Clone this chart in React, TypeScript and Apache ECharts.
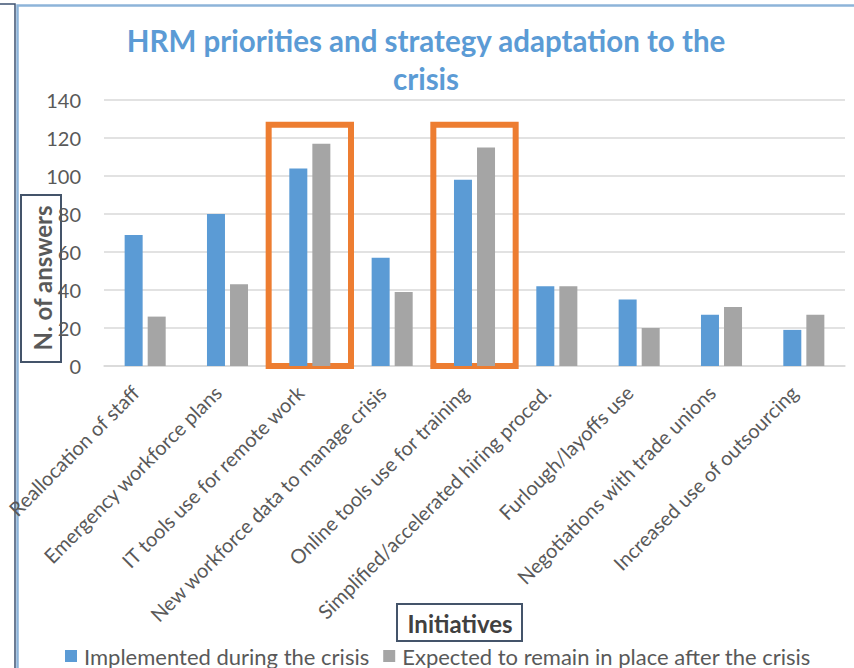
import React, { useEffect, useRef } from "react";
import * as echarts from "echarts";

const categories = [
  "Reallocation of staff",
  "Emergency workforce plans",
  "IT tools use for remote work",
  "New workforce data to manage crisis",
  "Online tools use for training",
  "Simplified/accelerated hiring proced.",
  "Furlough/layoffs use",
  "Negotiations with trade unions",
  "Increased use of outsourcing",
];
const implementedDuring = [69, 80, 104, 57, 98, 42, 35, 27, 19];
const expectedToRemain = [26, 43, 117, 39, 115, 42, 20, 31, 27];
const highlighted = ["IT tools use for remote work", "Online tools use for training"];
const highlightTop = 127;
const yTicks = { min: 0, max: 140, interval: 20 };

const FONT = "Lato, 'Noto Sans', sans-serif";

export default function App() {
  const ref = useRef<HTMLDivElement>(null);
  useEffect(() => {
    if (!ref.current) return;
    const chart = echarts.init(ref.current, null, { renderer: "svg" });
    chart.setOption({
      animation: false,
      backgroundColor: "#ffffff",
      textStyle: { fontFamily: FONT },
      title: {
        text: "HRM priorities and strategy adaptation to the\ncrisis",
        left: 421,
        top: 16,
        textAlign: "center",
        textStyle: {
          fontFamily: FONT,
          fontSize: 29.5,
          fontWeight: "bold",
          color: "#5b9bd5",
          lineHeight: 38,
        },
      },
      legend: {
        left: 60,
        top: 640,
        itemWidth: 12,
        itemHeight: 12,
        itemGap: 14,
        icon: "rect",
        textStyle: { fontFamily: FONT, fontSize: 22, color: "#595959", padding: [0, 0, 0, 2] },
        data: ["Implemented during the crisis", "Expected to remain in place after the crisis"],
      },
      grid: { left: 104, right: 9, top: 100, bottom: 302, containLabel: false },
      xAxis: {
        type: "category",
        data: categories,
        axisTick: { show: false, interval: 0 },
        axisLine: { lineStyle: { color: "#d9d9d9", width: 1.5 } },
        axisLabel: {
          interval: 0,
          rotate: 45,
          fontFamily: FONT,
          fontSize: 20,
          color: "#595959",
          margin: 13,
          padding: [0, 14, 0, 0],
        },
      },
      yAxis: {
        type: "value",
        min: yTicks.min,
        max: yTicks.max,
        interval: yTicks.interval,
        axisLine: { show: false },
        axisTick: { show: false },
        splitLine: { lineStyle: { color: "#d9d9d9", width: 1.5 } },
        axisLabel: { fontFamily: FONT, fontSize: 20, color: "#595959", margin: 23 },
      },
      series: [
        {
          name: "Implemented during the crisis",
          type: "bar",
          data: implementedDuring,
          barWidth: 18,
          barGap: "28%",
          itemStyle: { color: "#5b9bd5" },
          markArea: {
            silent: true,
            itemStyle: { color: "rgba(0,0,0,0)", borderColor: "#ed7d31", borderWidth: 6 },
            data: highlighted.map((c) => [
              { xAxis: c, yAxis: 0 },
              { xAxis: c, yAxis: highlightTop },
            ]),
          },
        },
        {
          name: "Expected to remain in place after the crisis",
          type: "bar",
          data: expectedToRemain,
          barWidth: 18,
          barGap: "28%",
          itemStyle: { color: "#a5a5a5" },
        },
      ],
      graphic: [
        {
          type: "polyline",
          shape: { points: [[0, 4], [15, 4], [15, 668]] },
          style: { stroke: "#3d5272", lineWidth: 1.5, fill: null },
        },
        {
          type: "polyline",
          shape: { points: [[17.5, 668], [17.5, 5.5], [854, 5.5]] },
          style: { stroke: "#8db4d9", lineWidth: 2.5, fill: null },
        },
        {
          type: "rect",
          shape: { x: 21, y: 195, width: 40, height: 167 },
          style: { stroke: "#44546a", lineWidth: 2, fill: null },
        },
        {
          type: "text",
          x: 42,
          y: 278,
          rotation: Math.PI / 2,
          style: {
            text: "N. of answers",
            fontFamily: FONT,
            fontSize: 24,
            fontWeight: "bold",
            fill: "#595959",
            align: "center",
            verticalAlign: "middle",
          },
        },
        {
          type: "rect",
          shape: { x: 397, y: 604, width: 125, height: 37 },
          style: { stroke: "#44546a", lineWidth: 2, fill: "#ffffff" },
        },
        {
          type: "text",
          x: 460,
          y: 623,
          style: {
            text: "Initiatives",
            fontFamily: FONT,
            fontSize: 24,
            fontWeight: "bold",
            fill: "#404040",
            align: "center",
            verticalAlign: "middle",
          },
        },
      ],
    });
    return () => chart.dispose();
  }, []);
  return <div ref={ref} style={{ width: 854, height: 668, position: "absolute", left: 0, top: 0 }} />;
}
